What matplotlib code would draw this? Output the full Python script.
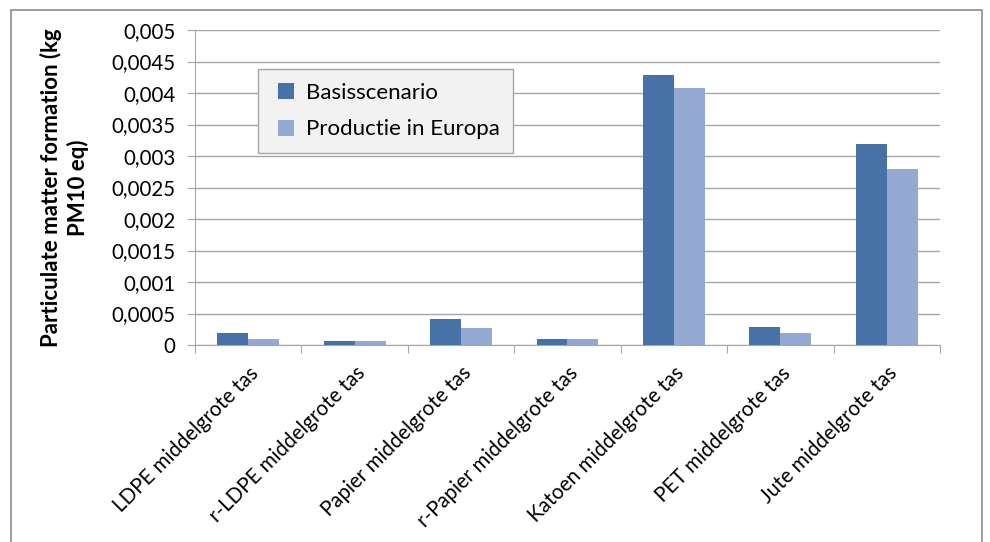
import numpy as np
import matplotlib.pyplot as plt
from matplotlib.patches import Rectangle
from matplotlib.legend_handler import HandlerPatch

plt.rcParams['font.family'] = ['Lato', 'DejaVu Sans']

categories = ["LDPE middelgrote tas", "r-LDPE middelgrote tas", "Papier middelgrote tas",
              "r-Papier middelgrote tas", "Katoen middelgrote tas", "PET middelgrote tas",
              "Jute middelgrote tas"]
basis = [0.00019, 0.00007, 0.00042, 0.00009, 0.00429, 0.00029, 0.00319]
europa = [0.00009, 0.00006, 0.000275, 0.00009, 0.00408, 0.000185, 0.00279]
yticks = [0, 0.0005, 0.001, 0.0015, 0.002, 0.0025, 0.003, 0.0035, 0.004, 0.0045, 0.005]
ytick_labels = ["0", "0,0005", "0,001", "0,0015", "0,002", "0,0025", "0,003",
                "0,0035", "0,004", "0,0045", "0,005"]
series_names = ["Basisscenario", "Productie in Europa"]
colors = ['#4672a8', '#93a9d1']

fig = plt.figure(figsize=(9.9, 5.42), dpi=100)
ax = fig.add_axes([195 / 990, 1 - 345 / 542, 745 / 990, 315 / 542])

# outer chart border (bottom edge falls off the image)
fig.patches.append(Rectangle((11 / 990, -3 / 542), 971 / 990, 535 / 542, transform=fig.transFigure,
                             fill=False, edgecolor='#8c8c8c', linewidth=1.2))

x = np.arange(len(categories))
w = 0.29
ax.bar(x - w / 2, basis, w, color=colors[0], zorder=3)
ax.bar(x + w / 2, europa, w, color=colors[1], zorder=3)

ax.set_xlim(-0.5, len(categories) - 0.5)
ax.set_ylim(0, 0.005)
ax.set_yticks(yticks)
ax.set_yticklabels(ytick_labels, fontsize=14.8)
ax.yaxis.grid(True, color='#a6a6a6', linewidth=1, zorder=0)

# x ticks between categories
ax.set_xticks(np.arange(-0.5, len(categories), 1.0))
ax.set_xticklabels([])
ax.set_xticks(x, minor=True)
ax.set_xticklabels(categories, minor=True, rotation=45, ha='right', rotation_mode='anchor',
                   fontsize=14.8)
ax.tick_params(axis='x', which='minor', length=0, pad=13)
ax.tick_params(axis='x', which='major', length=6, color='#a6a6a6')
ax.tick_params(axis='y', length=6, color='#a6a6a6', pad=8)

for s in ['top', 'right']:
    ax.spines[s].set_visible(False)
for s in ['left', 'bottom']:
    ax.spines[s].set_color('#a6a6a6')

ax.set_ylabel("Particulate matter formation (kg\nPM10 eq)", fontsize=16, fontweight='bold',
              linespacing=1.3, labelpad=16)


# small square legend markers sitting at the right of the handle box
def square(legend, orig_handle, xdescent, ydescent, width, height, fontsize):
    s = 11.5
    return Rectangle((-xdescent + width - s, -ydescent + (height - s) / 2), s, s)


proxies = [Rectangle((0, 0), 1, 1, facecolor=c, edgecolor='none') for c in colors]
leg = ax.legend(proxies, series_names, loc='upper left', bbox_to_anchor=(0.085, 0.875),
                fontsize=16, frameon=True, fancybox=False, handlelength=1.0,
                borderpad=0.6, labelspacing=0.75, handletextpad=0.55, borderaxespad=0,
                handler_map={Rectangle: HandlerPatch(patch_func=square)})
leg.get_frame().set_facecolor('#f2f2f2')
leg.get_frame().set_edgecolor('#a6a6a6')
leg.get_frame().set_alpha(1)

fig.savefig('out.png', dpi=100)
